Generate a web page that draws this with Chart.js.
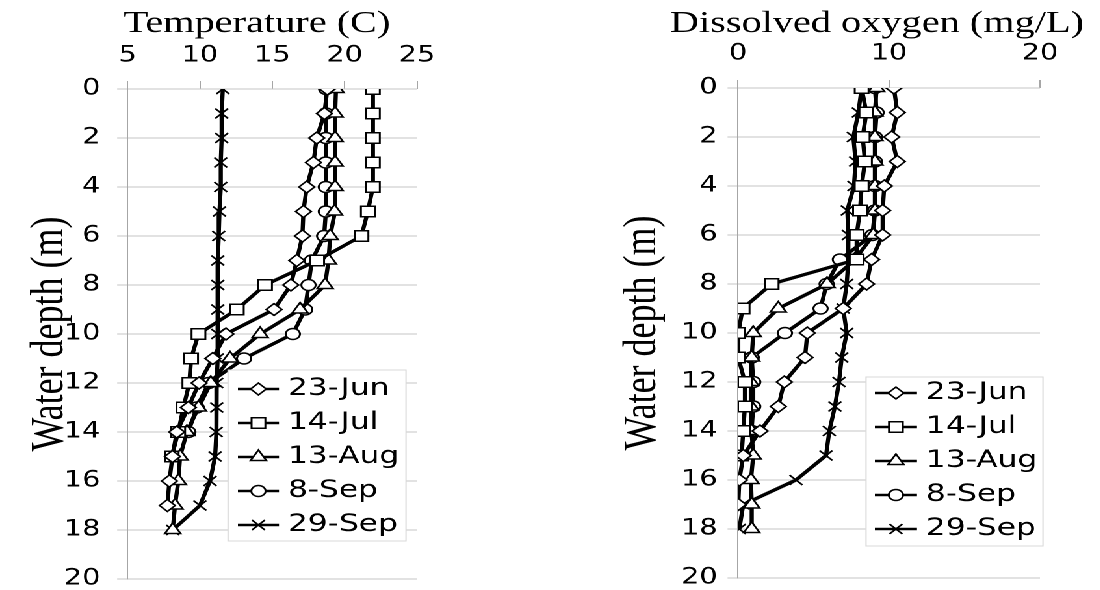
<!DOCTYPE html>
<html>
<head>
<meta charset="utf-8">
<script src="https://cdn.jsdelivr.net/npm/chart.js@4.4.1/dist/chart.umd.min.js"></script>
<style>
  html, body { margin: 0; padding: 0; background: #fff; overflow: hidden; width: 1100px; height: 590px; }
  /* the source picture is stretched sideways, so the whole drawing is too */
  #wrap { position: absolute; left: 0; top: 0; width: 846.15px; height: 610px; transform: scaleX(1.3); transform-origin: 0 0; }
  canvas { position: absolute; top: 0; }
</style>
</head>
<body>
<div id="wrap">
  <canvas id="tempChart" width="423" height="610" style="left:0"></canvas>
  <canvas id="doChart" width="423" height="610" style="left:423px"></canvas>
</div>
<script>
// --- data (depth in m) ---
const depths = [0, 1, 2, 3, 4, 5, 6, 7, 8, 9, 10, 11, 12, 13, 14, 15, 16, 17, 18];
const seriesLabels = ['23-Jun', '14-Jul', '13-Aug', '8-Sep', '29-Sep'];

// temperature (C), one value per depth from 0 m down
const jun23Temp = [18.8, 18.6, 18.07, 17.84, 17.38, 17.15, 17.08, 16.69, 16.28, 15.12, 11.8, 10.89, 9.94, 9.2, 8.4, 8.1, 7.89, 7.75];
const jul14Temp = [21.95, 21.95, 21.95, 21.95, 21.95, 21.6, 21.16, 18.1, 14.5, 12.55, 9.9, 9.39, 9.27, 8.86, 8.5, 8.05];
const aug13Temp = [19.4, 19.34, 19.34, 19.34, 19.34, 19.3, 19.0, 18.88, 18.65, 16.92, 14.16, 12.08, 10.75, 9.9, 9.1, 8.63, 8.51, 8.28, 8.12];
const sep8Temp  = [18.72, 18.7, 18.7, 18.7, 18.7, 18.7, 18.58, 17.73, 17.5, 17.27, 16.42, 13.05, 10.6, 9.78, 9.2];
const sep29Temp = [11.58, 11.5, 11.5, 11.44, 11.44, 11.35, 11.3, 11.23, 11.23, 11.23, 11.23, 11.2, 11.16, 11.16, 11.12, 11.05, 10.7, 10.0, 8.12];

// dissolved oxygen (mg/L)
const jun23DO = [10.33, 10.55, 10.18, 10.55, 9.69, 9.58, 9.58, 8.85, 8.52, 6.97, 4.59, 4.44, 3.07, 2.67, 1.46, 0.35, 0.09, 0.02];
const jul14DO = [8.19, 8.5, 8.26, 8.41, 8.19, 8.08, 7.86, 7.86, 2.23, 0.31, 0.02, 0.02, 0.46, 0.46, 0.35, 0.24];
const aug13DO = [9.18, 9.07, 9.07, 9.07, 9.07, 9.07, 8.96, 7.75, 5.9, 2.67, 1.01, 0.91, 0.85, 0.85, 0.9, 1.01, 0.86, 0.91, 0.91];
const sep8DO  = [9.07, 9.18, 9.07, 9.07, 9.07, 9.07, 8.9, 6.75, 5.87, 5.47, 3.11, 0.91, 1.01, 1.01, 0.9];
const sep29DO = [8.19, 7.97, 7.64, 7.79, 7.68, 7.24, 7.31, 7.31, 7.2, 6.97, 7.2, 6.87, 6.69, 6.42, 6.05, 5.83, 3.84, 0.35, 0.09];

// marker look per series
const markerStyles = ['rectRot', 'rect', 'triangle', 'circle', 'crossRot'];
const markerRadii = [6, 7.5, 7, 5.5, 7];

Chart.defaults.font.family = 'DejaVu Sans';
Chart.defaults.color = '#000';

function toPoints(values) {
  return values.map((v, i) => ({ x: v, y: depths[i] }));
}

function drawMarker(ctx, style, r, x, y) {
  if (Chart.helpers && Chart.helpers.drawPoint) {
    Chart.helpers.drawPoint(ctx, { pointStyle: style, radius: r, borderWidth: 1.5, rotation: 0 }, x, y);
    return;
  }
  ctx.beginPath();
  ctx.arc(x, y, r, 0, Math.PI * 2);
  ctx.fill();
  ctx.stroke();
}

// axis caption above the top ticks (scale titles get squeezed to the axis width)
const topCaption = {
  id: 'topCaption',
  afterDraw(chart, args, o) {
    const ctx = chart.ctx;
    const a = chart.chartArea;
    ctx.save();
    ctx.fillStyle = '#000';
    ctx.font = o.size + 'px "Liberation Serif"';
    ctx.textAlign = 'center';
    ctx.textBaseline = 'middle';
    ctx.fillText(o.text, (a.left + a.right) / 2 + o.dx, o.y);
    ctx.restore();
  }
};

// legend box drawn inside the plot, like the spreadsheet one
const boxLegend = {
  id: 'boxLegend',
  afterDraw(chart, args, o) {
    const ctx = chart.ctx;
    ctx.save();
    ctx.fillStyle = '#fff';
    ctx.fillRect(o.x, o.y, o.w, o.h);
    ctx.strokeStyle = '#d9d9d9';
    ctx.lineWidth = 1;
    ctx.strokeRect(o.x, o.y, o.w, o.h);
    chart.data.datasets.forEach((ds, i) => {
      const y = o.rowY + i * o.rowStep;
      ctx.strokeStyle = '#000';
      ctx.lineWidth = 2.5;
      ctx.beginPath();
      ctx.moveTo(o.lineX, y);
      ctx.lineTo(o.lineX + o.lineW, y);
      ctx.stroke();
      ctx.fillStyle = '#fff';
      ctx.lineWidth = 1.5;
      drawMarker(ctx, ds.pointStyle, ds.pointRadius, o.lineX + o.lineW / 2, y);
      ctx.fillStyle = '#000';
      ctx.font = '24px "DejaVu Sans"';
      ctx.textBaseline = 'middle';
      ctx.textAlign = 'left';
      ctx.fillText(ds.label, o.textX, y);
    });
    ctx.restore();
  }
};

function makeProfileChart(canvasId, seriesValues, c) {
  const datasets = seriesValues.map((vals, i) => ({
    label: seriesLabels[i],
    data: toPoints(vals),
    showLine: true,
    borderColor: '#000',
    borderWidth: 3.2,
    pointStyle: markerStyles[i],
    pointRadius: markerRadii[i],
    pointBackgroundColor: '#fff',
    pointBorderColor: '#000',
    pointBorderWidth: 1.5,
    tension: 0
  }));

  return new Chart(document.getElementById(canvasId), {
    type: 'scatter',
    data: { datasets: datasets },
    plugins: [topCaption, boxLegend],
    options: {
      responsive: false,
      animation: false,
      devicePixelRatio: 2,
      events: [],
      layout: { padding: { left: 0, top: 0, right: c.padRight, bottom: c.padBottom } },
      plugins: {
        legend: { display: false },
        tooltip: { enabled: false },
        topCaption: { text: c.xTitle, size: 31, dx: c.titleDx, y: 24 },
        boxLegend: c.legend
      },
      scales: {
        x: {
          type: 'linear',
          position: 'top',
          min: c.xMin,
          max: c.xMax,
          ticks: { stepSize: c.xStep, color: '#000', font: { size: 22 }, padding: c.xTickPad, maxRotation: 0 },
          grid: { drawOnChartArea: false, color: '#a6a6a6', tickLength: 8 },
          border: { display: false },
          afterFit: s => { s.height = c.topHeight; }
        },
        y: {
          type: 'linear',
          min: 0,
          max: 20,
          reverse: true,
          ticks: { stepSize: 2, color: '#000', font: { size: 22 }, padding: c.yTickPad },
          grid: { color: '#c4c4c4', lineWidth: 1, tickLength: 8 },
          border: { color: '#a6a6a6', width: 1 },
          title: {
            display: true,
            text: 'Water depth (m)',
            color: '#000',
            font: { family: 'Liberation Serif', size: 36 },
            padding: { top: c.yTitlePad, bottom: 0 }
          },
          afterFit: s => { s.width = c.leftWidth; }
        }
      }
    }
  });
}

makeProfileChart('tempChart', [jun23Temp, jul14Temp, aug13Temp, sep8Temp, sep29Temp], {
  xMin: 5, xMax: 25, xStep: 5, xTitle: 'Temperature (C)', titleDx: -11.8,
  leftWidth: 98.1, topHeight: 89, padRight: 102.2, padBottom: 31,
  xTickPad: 12, yTickPad: 13, yTitlePad: 17,
  legend: { x: 175.4, y: 370, w: 136.9, h: 171, lineX: 183, lineW: 31.6, textX: 221.5, rowY: 389, rowStep: 34 }
});

makeProfileChart('doChart', [jun23DO, jul14DO, aug13DO, sep8DO, sep29DO], {
  xMin: 0, xMax: 20, xStep: 10, xTitle: 'Dissolved oxygen (mg/L)', titleDx: -9.3,
  leftWidth: 144.7, topHeight: 88, padRight: 46, padBottom: 32,
  xTickPad: 13, yTickPad: 7.7, yTitlePad: 50,
  legend: { x: 243.2, y: 377, w: 136.1, h: 169, lineX: 250, lineW: 32.4, textX: 289.3, rowY: 393, rowStep: 34 }
});
</script>
</body>
</html>
